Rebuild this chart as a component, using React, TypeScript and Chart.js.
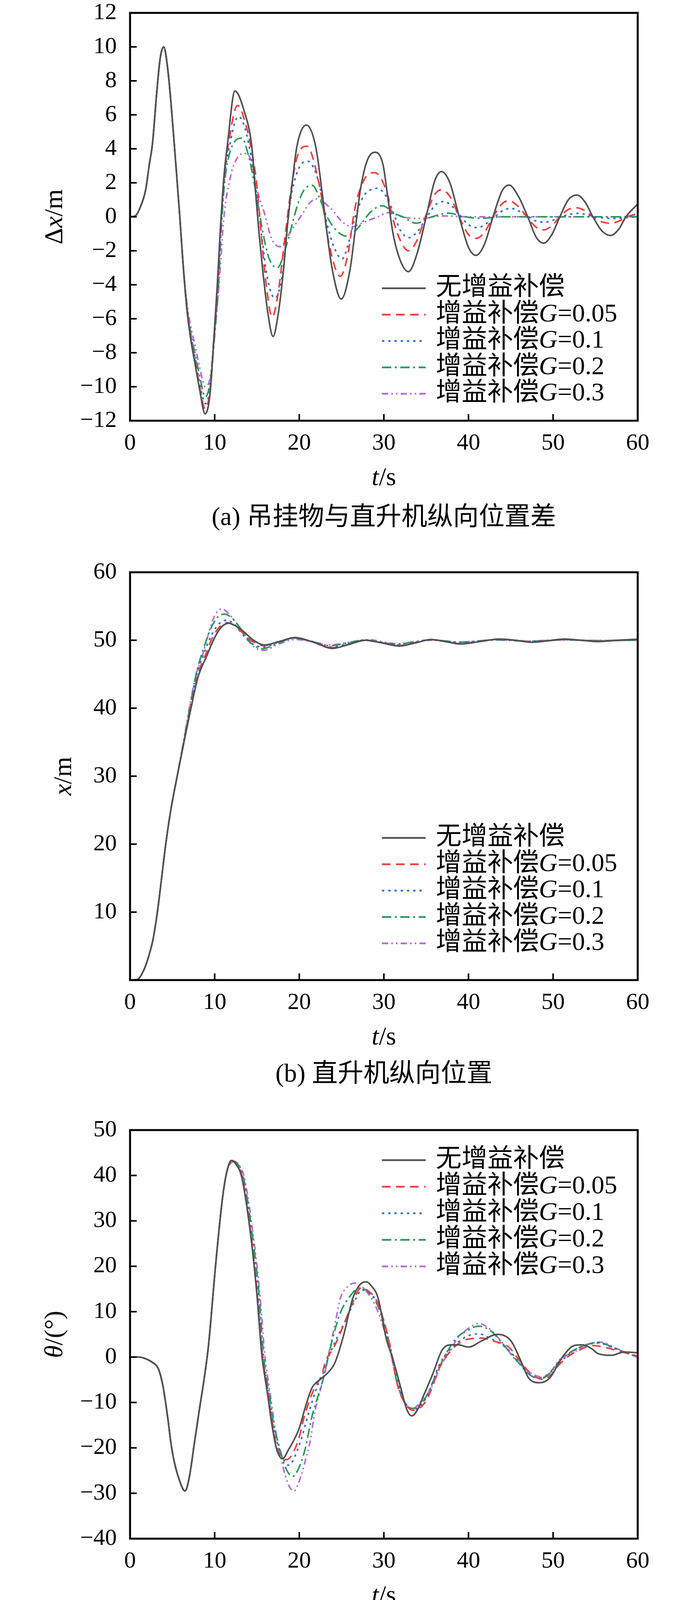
import React, { useEffect, useRef } from 'react';
import { Chart, registerables } from 'chart.js';

Chart.register(...registerables);

// ---------------- data ----------------
const seriesLabels = ['无增益补偿', '增益补偿G=0.05', '增益补偿G=0.1', '增益补偿G=0.2', '增益补偿G=0.3'];
const xTicksT = [0, 10, 20, 30, 40, 50, 60];

// (a) Δx / m
const dxEarly = [[0,0],[0.6,0.05],[1.24,0.6],[1.86,1.63],[2.27,3.06],[2.65,4.3],[3.17,7.4],[3.57,9.35],[3.97,10],[4.5,8.5],[5.16,4.7],[5.88,0],[6.3,-3.0]];
const dxNone = [[6.75,-5.6],[7.2,-7.3],[7.7,-8.7],[8.2,-10.1],[8.87,-11.6],[9.48,-10.3],[9.9,-7.2],[10.3,-4.1],[10.7,-0.5],[11.13,2.55],[11.5,4.2],[12.4,7.4],[13.5,6.2],[14.4,4.09],[14.74,2.0],[15.26,-1.04],[15.67,-3.1],[16.29,-5.66],[16.9,-7.04],[17.53,-5.66],[18.14,-3.1],[18.66,-0.22],[19.18,2.04],[19.7,4.09],[20.85,5.4],[21.96,4.09],[22.68,1.52],[23.3,-1.04],[23.9,-3.1],[24.95,-4.84],[26.0,-3.1],[26.8,0],[27.2,1.52],[28.0,3.27],[28.97,3.8],[29.9,3.06],[30.5,1.0],[31.1,-1.04],[31.96,-2.6],[32.9,-3.23],[33.9,-2.2],[35.0,0],[36.0,2.1],[36.8,2.66],[37.8,2.0],[38.9,0],[40.0,-1.8],[40.9,-2.27],[41.9,-1.6],[42.9,0],[44.0,1.55],[44.8,1.87],[45.9,1.2],[47.0,0],[48.0,-1.2],[48.9,-1.55],[49.9,-1.0],[50.8,0],[51.8,1.0],[52.8,1.28],[53.8,0.85],[54.7,0],[55.8,-0.85],[56.8,-1.1],[57.8,-0.7],[58.6,0],[60,0.75]];
const dx005 = [[6.75,-5.5],[7.2,-7.1],[7.7,-8.5],[8.2,-9.9],[8.87,-11.3],[9.48,-10.1],[9.92,-7.2],[10.35,-4.1],[10.72,-0.5],[11.15,2.5],[11.6,4.2],[12.7,6.55],[13.7,5.4],[14.4,3.8],[14.95,2.04],[15.5,-1.0],[16.0,-3.6],[16.8,-5.9],[17.5,-4.5],[18.1,-2.07],[18.6,0],[19.0,1.52],[19.8,3.6],[20.9,4.15],[22.3,2.04],[23.0,0],[23.5,-1.55],[24.85,-3.5],[25.8,-2.07],[26.4,0],[26.8,1.0],[27.8,2.3],[28.9,2.6],[30.5,1.2],[31.0,0],[32.0,-1.45],[32.9,-2.0],[33.9,-1.4],[34.9,0],[36.0,1.3],[36.8,1.6],[37.8,1.2],[38.9,0],[40.0,-1.05],[40.9,-1.27],[41.9,-0.9],[42.9,0],[44.0,0.78],[44.8,0.94],[45.9,0.6],[46.9,0],[48.0,-0.62],[48.9,-0.77],[49.9,-0.5],[50.8,0],[51.8,0.43],[52.8,0.53],[53.8,0.35],[54.7,0],[55.8,-0.3],[56.8,-0.38],[57.8,-0.25],[58.7,0],[60,0.17]];
const dx01 = [[6.75,-5.45],[7.2,-7.0],[7.7,-8.3],[8.2,-9.7],[8.9,-11.0],[9.5,-9.9],[9.95,-7.1],[10.4,-4.1],[10.75,-0.6],[11.18,2.4],[11.65,3.9],[12.8,5.9],[13.8,4.8],[15.05,1.0],[15.6,-1.3],[16.2,-3.5],[17.1,-4.79],[18.1,-3.1],[18.5,-1.0],[18.97,1.0],[19.9,2.8],[21.0,3.27],[22.3,2.04],[23.1,0],[23.5,-0.84],[24.2,-1.9],[25.05,-2.48],[25.9,-1.4],[26.6,-0.02],[27.6,1.22],[28.3,1.55],[29.2,1.68],[30.5,1.0],[31.3,0],[32.0,-0.84],[33.0,-1.23],[34.0,-0.85],[35.1,0],[36.1,0.7],[37.1,0.9],[38.1,0.6],[39.1,0],[40.1,-0.5],[41.1,-0.64],[42.1,-0.4],[43.1,0],[44.1,0.38],[45.1,0.49],[46.1,0.3],[47.1,0],[48.0,-0.25],[49.0,-0.32],[50.0,-0.2],[51.0,0],[52.0,0.15],[53.0,0.2],[54.0,0.12],[55.0,0],[57.0,-0.1],[60,0]];
const dx02 = [[6.75,-5.4],[7.2,-6.9],[7.7,-8.1],[8.2,-9.3],[8.9,-10.6],[9.5,-9.6],[10.0,-7.0],[10.45,-4.1],[10.75,-1.0],[11.15,1.9],[11.6,3.4],[12.2,4.3],[13.2,4.63],[14.0,3.6],[14.85,1.52],[15.67,-0.84],[16.4,-2.4],[17.4,-3.0],[18.56,-1.55],[19.8,0.7],[20.6,1.6],[21.55,1.85],[22.4,1.1],[23.1,0.19],[24.2,-0.7],[25.6,-1.14],[26.8,-0.73],[28.45,0.29],[29.8,0.65],[31.3,0.19],[32.3,-0.02],[33.8,-0.38],[35.7,0],[37.6,0.21],[39.6,0],[41.5,-0.09],[44,0],[60,0]];
const dx03 = [[6.75,-5.2],[7.2,-6.5],[7.7,-7.6],[8.2,-8.8],[8.9,-10.0],[9.55,-9.2],[9.95,-6.9],[10.5,-4.1],[11.1,0],[11.96,2.55],[12.6,3.4],[13.4,3.73],[14.2,3.47],[15.05,1.52],[15.9,0.19],[16.7,-1.25],[17.7,-1.76],[19.0,-0.84],[20.4,0.19],[21.2,0.8],[22.06,1.06],[23.7,0.5],[25.15,-0.32],[26.2,-0.58],[27.6,-0.32],[29.3,0],[30.5,0.24],[32.3,-0.02],[34.3,-0.1],[37,0.05],[40,0],[60,0]];
const dxTicks = [-12, 12, 2];

// (b) x / m
const xEarly = [[0,0],[0.8,0.05],[1.6,1.4],[2.25,3.7],[2.7,5.9],[3.23,10],[3.72,14.9],[4.22,20],[4.8,24.9],[5.57,30]];
const xNone = [[6.37,35],[7.2,40],[8.04,44.6],[9.07,47.7],[9.85,50],[10.7,51.8],[11.65,52.5],[12.5,52.1],[13.4,51.3],[14.6,50.0],[15.9,49.3],[17.6,49.8],[19.5,50.4],[21.7,49.7],[23.9,48.8],[25.9,49.4],[27.8,50.0],[29.8,49.6],[31.8,49.14],[33.7,49.6],[35.6,50.1],[37.3,49.8],[39.0,49.45],[41.3,49.8],[43.6,50.17],[45.5,50.0],[47.4,49.7],[49.3,49.9],[51.3,50.17],[53.3,50.0],[55.3,49.8],[57.6,50.0],[60,50.15]];
const x005 = [[6.37,35],[7.15,40],[8.0,44.9],[9.0,48.1],[9.7,50.3],[10.6,52.0],[11.45,52.6],[12.4,52.1],[13.3,51.1],[14.5,49.8],[15.8,49.2],[17.6,49.8],[19.5,50.35],[21.7,49.7],[23.9,48.9],[25.9,49.4],[27.8,50.0],[29.8,49.6],[31.8,49.2],[33.7,49.65],[35.6,50.1],[37.3,49.8],[39.0,49.5],[41.3,49.8],[43.6,50.15],[45.5,50.0],[47.4,49.75],[49.3,49.9],[51.3,50.15],[53.3,50.0],[55.3,49.85],[57.6,50.0],[60,50.1]];
const x01 = [[6.37,35.1],[7.1,40],[7.9,45.0],[8.9,48.6],[9.6,50.7],[10.5,52.4],[11.4,52.95],[12.3,52.4],[13.2,51.0],[14.4,49.5],[15.7,49.0],[17.5,49.7],[19.4,50.3],[21.6,49.8],[23.8,49.0],[25.8,49.5],[27.7,50.0],[29.7,49.65],[31.7,49.3],[33.6,49.7],[35.5,50.05],[37.2,49.85],[39.0,49.6],[41.2,49.85],[43.5,50.1],[45.4,50.0],[47.3,49.8],[49.2,49.95],[51.2,50.1],[53.2,50.0],[55.2,49.9],[60,50.05]];
const x02 = [[6.37,35.3],[7.05,40],[7.85,45.2],[8.8,49.2],[9.5,51.6],[10.3,53.3],[11.15,53.85],[12.1,53.2],[13.2,51.5],[14.3,49.6],[15.6,48.75],[17.4,49.5],[19.3,50.3],[21.5,49.8],[23.6,49.2],[25.7,49.6],[27.7,50.0],[29.6,49.7],[31.6,49.4],[33.5,49.75],[35.5,50.05],[37.2,49.9],[39.0,49.7],[41.2,49.9],[43.4,50.05],[47.2,49.85],[51.2,50.05],[55.2,49.95],[60,50.0]];
const x03 = [[6.37,35.5],[7.0,40],[7.73,44.6],[8.66,48.2],[9.4,51.5],[10.0,53.6],[10.8,54.6],[11.6,54.0],[12.2,53.1],[13.2,51.5],[14.4,49.3],[15.8,48.5],[17.5,49.4],[19.5,50.1],[21.5,49.8],[23.5,49.3],[25.5,49.6],[28,50.1],[31.5,49.5],[35.5,50.0],[39,49.75],[43.4,50.05],[47.2,49.9],[51.2,50.05],[55.2,49.95],[60,50.0]];
const xTicks = [0, 60, 10];

// (c) θ / (°)
const thEarly = [[0,0],[1.0,0],[1.6,-0.2],[2.5,-1.0],[3.3,-2.4],[3.6,-4.0],[3.9,-6.5],[4.2,-10.0],[4.5,-14.0],[4.8,-18.5],[5.14,-22.3],[5.76,-26.7],[6.49,-29.5],[7.0,-26.5],[7.6,-19.0],[8.2,-11.5],[8.85,-3.6],[9.28,2.7],[10.1,20],[10.9,34.6],[11.4,40.5]];
const thNone = [[11.96,43.3],[12.5,42.5],[13.2,39.6],[14.2,27.7],[14.95,14.7],[15.6,0],[15.87,-3.6],[16.28,-8.5],[16.69,-14],[17.3,-20.1],[18.03,-22.4],[18.7,-20.5],[19.95,-15.9],[20.8,-10.5],[21.5,-6.8],[22.4,-5.0],[23.3,-3.6],[24.2,-1.3],[25.2,4.5],[26.3,12.8],[27.1,15.8],[27.9,16.6],[28.6,15.5],[29.3,13.1],[30.3,3.9],[31.0,0],[32.0,-6.8],[32.7,-11.5],[33.3,-12.95],[34.0,-11.5],[34.6,-8.9],[35.8,-3.6],[36.9,1.6],[38.0,2.7],[38.8,2.7],[40.0,2.2],[41.6,3.6],[43.4,5.0],[45.0,3.6],[46.15,-0.66],[47.1,-4.6],[48.4,-5.65],[49.6,-4.6],[51.1,0],[52.5,2.55],[53.4,2.7],[54.6,1.8],[55.3,0.77],[56.9,0.4],[58.4,1.1],[60,0.95]];
const th005 = [[12.0,43.3],[12.55,42.6],[13.25,39.6],[14.25,27.7],[15.0,14.7],[15.65,0],[15.92,-3.6],[16.33,-8.5],[16.75,-14],[17.4,-20.1],[18.5,-22.6],[19.8,-18.8],[20.7,-12.4],[21.8,-6.8],[22.6,-4.2],[23.2,-0.5],[24.0,1.8],[25.2,6.9],[26.2,11.5],[27.3,15.2],[28.2,14.5],[29.2,12.2],[30.5,4.4],[31.6,-6.1],[32.6,-10.5],[33.5,-11.7],[35.0,-9.6],[36.7,-1.9],[38.0,1.6],[39.5,3.7],[40.2,4.0],[41.5,4.2],[43.0,3.5],[44.7,2.3],[46.3,-1.4],[47.6,-4.0],[48.8,-4.9],[49.8,-3.8],[50.7,-1.7],[52.0,0.4],[53.4,1.8],[54.6,2.55],[56.0,2.2],[57.8,1.3],[60,0.2]];
const th01 = [[12.05,43.2],[12.6,42.6],[13.3,39.6],[14.3,27.7],[15.05,14.7],[15.7,0],[15.97,-3.6],[16.4,-8.5],[16.8,-14],[17.5,-19.5],[18.75,-23.8],[20.1,-18.8],[21.1,-12.4],[22.2,-6.1],[22.6,-4.7],[23.5,0.2],[24.5,4.4],[25.6,8.6],[26.7,12.9],[27.4,14.8],[28.3,14.0],[29.4,11.5],[30.6,3.5],[31.7,-6],[32.6,-10.3],[33.6,-11.5],[35.0,-9.0],[36.6,-1.5],[38.6,3.0],[40.1,4.8],[41.2,5.1],[42.8,3.9],[44.6,1.8],[46.1,-1.4],[47.3,-3.9],[48.4,-4.6],[49.6,-3.5],[50.7,-1.4],[52.0,0.8],[53.2,2.2],[55.3,3.1],[57.6,1.6],[60,0.05]];
const th02 = [[12.1,43.2],[12.7,42.6],[13.4,39.6],[14.4,27.7],[15.2,14.7],[15.8,0],[16.05,-3.6],[16.5,-8.5],[16.9,-14],[17.6,-19.5],[18.3,-24],[19.2,-26.3],[20.0,-24.2],[20.7,-20.2],[21.5,-13.1],[22.4,-7.5],[23.0,-3.6],[23.7,2.3],[24.85,9.7],[26.2,13.9],[27.0,15.2],[28.0,14.6],[29.3,11.2],[30.6,3.0],[31.6,-5.9],[32.5,-10.2],[33.4,-11.3],[34.9,-9.0],[36.6,-2.0],[38.4,3.8],[40.0,6.0],[41.2,6.8],[42.6,5.8],[44.2,2.6],[45.9,-1.2],[47.3,-4.0],[48.6,-4.7],[49.6,-3.6],[50.7,-1.0],[52.0,1.0],[53.3,2.3],[55.3,3.2],[57.6,1.7],[60,-0.05]];
const th03 = [[12.2,43.0],[12.8,42.5],[13.5,39.6],[14.5,27.7],[15.3,14.7],[15.95,0],[16.2,-3.6],[16.6,-8.5],[17.0,-14],[17.6,-20],[18.5,-27],[19.35,-29.5],[20.1,-26.8],[20.7,-22.9],[21.3,-18.4],[21.8,-12.4],[22.4,-7.9],[23.0,-3.6],[23.5,0.9],[24.3,8.0],[24.85,12.9],[25.7,15.5],[26.6,16.3],[27.6,15.2],[29.3,10.0],[30.9,0],[31.6,-5.8],[32.5,-10],[33.3,-11.5],[34.3,-10],[35.8,-6.1],[36.7,-1.9],[37.7,0.9],[38.8,4.4],[39.9,6.2],[41.2,7.4],[42.5,6.2],[43.9,3.4],[45.2,0.2],[45.8,-1.0],[47.5,-3.7],[48.8,-4.4],[49.8,-3.0],[50.7,-0.66],[52.5,1.1],[53.8,2.55],[55.5,3.3],[57.6,1.8],[60,-0.1]];
const thTicks = [-40, 50, 10];

// ---------------- styles ----------------
const COLORS = ['#505050', '#f23d3d', '#2f6fd8', '#2a9a58', '#b46ae0'];
const DASHES: number[][] = [[], [22, 14], [6, 10], [24, 9, 5, 9], [16, 8, 4, 8, 4, 8]];
const SERIF = "'Liberation Serif', 'Times New Roman', serif";
const MIXED = "'Liberation Serif', 'Noto Sans CJK SC', serif";
const TEXT_SIZE = 66;

type Seg = { t: string; i?: boolean };

function drawSegs(ctx: CanvasRenderingContext2D, segs: Seg[], x: number, y: number, size: number, align: 'left' | 'center') {
  const fonts = segs.map(s => `${s.i ? 'italic ' : ''}${size}px ${MIXED}`);
  let total = 0;
  const widths = segs.map((s, k) => {
    ctx.font = fonts[k];
    const w = ctx.measureText(s.t).width;
    total += w;
    return w;
  });
  let cx = align === 'center' ? x - total / 2 : x;
  ctx.textAlign = 'left';
  ctx.textBaseline = 'middle';
  ctx.fillStyle = '#000';
  segs.forEach((s, k) => {
    ctx.font = fonts[k];
    ctx.fillText(s.t, cx, y);
    cx += widths[k];
  });
}

function labelSegs(label: string): Seg[] {
  const k = label.indexOf('G');
  if (k < 0) return [{ t: label }];
  return [{ t: label.slice(0, k) }, { t: 'G', i: true }, { t: label.slice(k + 1) }];
}

const decorPlugin = {
  id: 'decor',
  afterDraw(chart: any, _args: any, opts: any) {
    const { ctx, chartArea: ca, scales } = chart;
    const xs = scales.x, ys = scales.y;
    ctx.save();
    ctx.strokeStyle = '#000';
    ctx.lineWidth = 5;
    ctx.setLineDash([]);
    ctx.strokeRect(ca.left, ca.top, ca.right - ca.left, ca.bottom - ca.top);
    ctx.lineWidth = 4;
    xs.ticks.forEach((t: any) => {
      if (t.value <= xs.min || t.value >= xs.max) return;
      const p = xs.getPixelForValue(t.value);
      ctx.beginPath(); ctx.moveTo(p, ca.bottom); ctx.lineTo(p, ca.bottom - 17); ctx.stroke();
    });
    ys.ticks.forEach((t: any) => {
      if (t.value <= ys.min || t.value >= ys.max) return;
      const p = ys.getPixelForValue(t.value);
      ctx.beginPath(); ctx.moveTo(ca.left, p); ctx.lineTo(ca.left + 17, p); ctx.stroke();
    });
    ctx.save();
    ctx.translate(opts.yTitleX, (ca.top + ca.bottom) / 2);
    ctx.rotate(-Math.PI / 2);
    drawSegs(ctx, opts.yTitle, 0, 0, TEXT_SIZE, 'center');
    ctx.restore();
    const cx = (ca.left + ca.right) / 2;
    drawSegs(ctx, [{ t: 't', i: true }, { t: '/s' }], cx, ca.bottom + 148, TEXT_SIZE, 'center');
    drawSegs(ctx, [{ t: opts.caption }], cx, ca.bottom + opts.captionOff, TEXT_SIZE, 'center');
    chart.data.datasets.forEach((ds: any, k: number) => {
      const ry = opts.legendY[k];
      ctx.strokeStyle = ds.borderColor;
      ctx.lineWidth = 4.5;
      ctx.setLineDash(ds.borderDash || []);
      ctx.beginPath(); ctx.moveTo(978, ry); ctx.lineTo(1090, ry); ctx.stroke();
      ctx.setLineDash([]);
      drawSegs(ctx, labelSegs(ds.label), 1116, ry, TEXT_SIZE, 'left');
    });
    ctx.restore();
  },
};

type PanelCfg = {
  top: number; h: number; areaTop: number; areaBottom: number;
  series: number[][][]; yTicks: number[]; hideZero: boolean;
  yTitle: Seg[]; yTitleX: number; caption: string; captionOff: number; legendY: number[];
};

function fmt(v: number, hideZero: boolean) {
  if (hideZero && v === 0) return '';
  return v < 0 ? '\u2212' + Math.abs(v) : String(v);
}

function Panel({ cfg }: { cfg: PanelCfg }) {
  const ref = useRef<HTMLCanvasElement | null>(null);
  useEffect(() => {
    if (!ref.current) return;
    const datasets = cfg.series.map((s, k) => ({
      label: seriesLabels[k],
      data: s.map(([x, y]) => ({ x, y })),
      borderColor: COLORS[k],
      borderDash: DASHES[k],
      borderWidth: 4,
      pointRadius: 0,
      fill: false,
      cubicInterpolationMode: 'monotone' as const,
    }));
    const chart = new Chart(ref.current, {
      type: 'line',
      data: { datasets },
      options: {
        animation: false,
        responsive: false,
        maintainAspectRatio: false,
        devicePixelRatio: 1,
        layout: { padding: { top: cfg.areaTop, right: 1772 - 1633, left: 0, bottom: 0 } },
        plugins: { legend: { display: false }, tooltip: { enabled: false }, decor: cfg } as any,
        scales: {
          x: {
            type: 'linear', min: xTicksT[0], max: xTicksT[xTicksT.length - 1],
            afterBuildTicks: (s: any) => { s.ticks = xTicksT.map(v => ({ value: v })); },
            ticks: { color: '#000', font: { family: SERIF, size: 60, lineHeight: 1.0 }, padding: 20, maxRotation: 0, autoSkip: false },
            grid: { display: false }, border: { display: false },
            afterFit: (s: any) => { s.height = cfg.h - cfg.areaBottom; s.paddingLeft = 0; s.paddingRight = 0; },
          },
          y: {
            type: 'linear', min: cfg.yTicks[0], max: cfg.yTicks[1],
            ticks: { stepSize: cfg.yTicks[2], color: '#000', font: { family: SERIF, size: 60, lineHeight: 1.0 }, padding: 26,
              callback: (v: any) => fmt(Number(v), cfg.hideZero) },
            grid: { display: false }, border: { display: false },
            afterFit: (s: any) => { s.width = 333; s.paddingTop = 0; s.paddingBottom = 0; },
          },
        },
      },
      plugins: [decorPlugin],
    });
    return () => chart.destroy();
  }, [cfg]);
  return (
    <canvas ref={ref} width={1772} height={cfg.h}
      style={{ position: 'absolute', left: 0, top: cfg.top, width: 1772, height: cfg.h }} />
  );
}

const panelA: PanelCfg = {
  top: 0, h: 1420, areaTop: 33, areaBottom: 1077,
  series: [dxEarly.concat(dxNone), dxEarly.concat(dx005), dxEarly.concat(dx01), dxEarly.concat(dx02), dxEarly.concat(dx03)],
  yTicks: dxTicks, hideZero: false,
  yTitle: [{ t: 'Δ' }, { t: 'x', i: true }, { t: '/m' }], yTitleX: 142,
  caption: '(a) 吊挂物与直升机纵向位置差', captionOff: 250,
  legendY: [738, 805.5, 873, 940.5, 1008],
};
const panelB: PanelCfg = {
  top: 1420, h: 1420, areaTop: 45, areaBottom: 1089,
  series: [xEarly.concat(xNone), xEarly.concat(x005), xEarly.concat(x01), xEarly.concat(x02), xEarly.concat(x03)],
  yTicks: xTicks, hideZero: true,
  yTitle: [{ t: 'x', i: true }, { t: '/m' }], yTitleX: 165,
  caption: '(b) 直升机纵向位置', captionOff: 243,
  legendY: [725, 792.5, 860, 927.5, 995],
};
const panelC: PanelCfg = {
  top: 2840, h: 1376, areaTop: 53, areaBottom: 1099,
  series: [thEarly.concat(thNone), thEarly.concat(th005), thEarly.concat(th01), thEarly.concat(th02), thEarly.concat(th03)],
  yTicks: thTicks, hideZero: false,
  yTitle: [{ t: 'θ', i: true }, { t: '/(°)' }], yTitleX: 142,
  caption: '(c) 吊挂物俯仰角', captionOff: 238,
  legendY: [130, 198, 266, 334, 402],
};

export default function App() {
  return (
    <div style={{ position: 'absolute', left: 0, top: 0, width: 1772, height: 4216, background: '#fff', overflow: 'hidden' }}>
      <Panel cfg={panelA} />
      <Panel cfg={panelB} />
      <Panel cfg={panelC} />
    </div>
  );
}
